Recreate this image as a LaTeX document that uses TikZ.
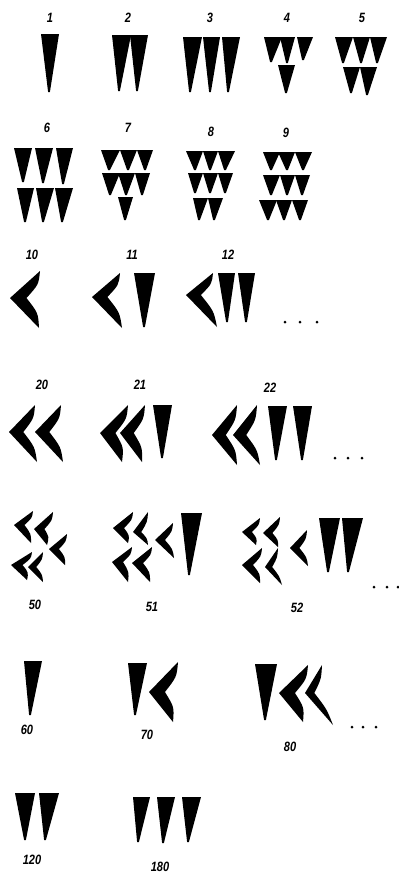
\documentclass[tikz,border=0pt]{standalone}
\usepackage{fontspec}
\setmainfont{Liberation Sans}
\begin{document}
\begin{tikzpicture}[x=1pt,y=-1pt,
  lbl/.style={font=\fontsize{13.5}{13.5}\selectfont\bfseries\itshape, inner sep=0pt, text=black, xscale=0.82}]
\useasboundingbox[fill=white] (0,0) rectangle (399,873);
% wedge: xl, xr, ytop, xtip, ytip
\newcommand\wdg[5]{\fill (#1,#3) -- (#2,#3) -- (#4+0.9,#5) -- (#4-0.9,#5) -- cycle;}
% chevron: upper tip, apex, lower tip
\newcommand\chev[6]{%
  \pgfmathsetmacro\chw{#1-#3}%
  \pgfmathsetmacro\chnx{#3+0.55*\chw}%
  \pgfmathsetmacro\chax{(#5+\chnx)/2+0.18*\chw}\pgfmathsetmacro\chay{(#6+#4)/2}%
  \pgfmathsetmacro\chbx{(#1+\chnx)/2+0.18*\chw}\pgfmathsetmacro\chby{(#2+#4)/2}%
  \fill (#1,#2) -- (#3,#4) -- (#5,#6) .. controls (\chax,\chay) .. (\chnx,#4) .. controls (\chbx,\chby) .. (#1,#2) -- cycle;}
\newcommand\dotsrow[4]{\fill (#1,#4) circle (1.5); \fill (#2,#4) circle (1.5); \fill (#3,#4) circle (1.5);}
% ---------- row 1
\node[lbl] (n1) at (50,18) {1};
\node[lbl] (n2) at (128,18) {2};
\node[lbl] (n3) at (210,18) {3};
\node[lbl] (n4) at (287,18) {4};
\node[lbl] (n5) at (362,18) {5};
\wdg{41}{59}{34}{49}{92}
\wdg{112}{131}{35}{119}{91}\wdg{130}{148}{35}{137}{91}
\wdg{183}{202}{37}{190}{92}\wdg{203}{220}{37}{210}{92}\wdg{222}{240}{37}{228}{92}
\wdg{264}{282}{37}{271}{62}\wdg{280}{295}{37}{287}{63}\wdg{297}{313}{37}{303}{60}\wdg{278}{295}{65}{286}{93}
\wdg{335}{353}{37}{343}{63}\wdg{353}{370}{37}{361}{63}\wdg{370}{387}{37}{377}{63}
\wdg{343}{360}{67}{351}{93}\wdg{360}{377}{67}{367}{95}
% ---------- row 2
\node[lbl] (n6) at (47,128) {6};
\node[lbl] (n7) at (128,128) {7};
\node[lbl] (n8) at (211,132) {8};
\node[lbl] (n9) at (286,133) {9};
\wdg{14}{32}{148}{23}{182}\wdg{35}{53}{148}{43}{183}\wdg{56}{73}{148}{63}{184}
\wdg{17}{34}{188}{25}{222}\wdg{36}{54}{188}{43}{222}\wdg{55}{73}{188}{62}{222}
\wdg{101}{120}{150}{109}{170}\wdg{120}{137}{150}{128}{170}\wdg{137}{153}{150}{145}{170}
\wdg{102}{120}{173}{110}{195}\wdg{118}{135}{173}{126}{195}\wdg{135}{150}{173}{142}{195}
\wdg{118}{133}{197}{125}{220}
\wdg{186}{203}{151}{195}{170}\wdg{203}{218}{151}{210}{170}\wdg{218}{235}{151}{225}{170}
\wdg{188}{203}{173}{195}{193}\wdg{203}{218}{173}{210}{193}\wdg{218}{233}{173}{225}{193}
\wdg{193}{208}{198}{199}{220}\wdg{208}{223}{198}{214}{220}
\wdg{263}{280}{152}{271}{170}\wdg{278}{295}{152}{287}{170}\wdg{295}{312}{152}{303}{170}
\wdg{263}{280}{175}{271}{195}\wdg{280}{295}{175}{287}{195}\wdg{295}{310}{175}{302}{195}
\wdg{259}{277}{200}{268}{220}\wdg{276}{292}{200}{284}{220}\wdg{292}{308}{200}{300}{220}
% ---------- row 3
\node[lbl] (n10) at (32,255) {10};
\node[lbl] (n11) at (132,255) {11};
\node[lbl] (n12) at (228,255) {12};
\chev{40}{271}{10}{298}{39}{328}
\chev{120}{273}{92}{297}{122}{328}\wdg{134}{155}{273}{144}{327}
\chev{213}{273}{186}{295}{217}{327}\wdg{218}{235}{273}{227}{322}\wdg{238}{255}{273}{246}{322}
\dotsrow{285}{300}{317}{322}
% ---------- row 4
\node[lbl] (n20) at (42,385) {20};
\node[lbl] (n21) at (140,385) {21};
\node[lbl] (n22) at (270,388) {22};
\chev{35}{405}{9}{432}{37}{462}\chev{61}{405}{35}{432}{63}{462}
\chev{128}{405}{100}{433}{122}{462}\chev{145}{405}{120}{433}{142}{462}\wdg{153}{172}{405}{162}{458}
\chev{237}{405}{212}{435}{237}{465}\chev{257}{405}{233}{435}{260}{465}
\wdg{268}{287}{406}{276}{460}\wdg{293}{312}{406}{302}{460}
\dotsrow{335}{348}{362}{458}
% ---------- row 5
\node[lbl] (n50) at (35,605) {50};
\node[lbl] (n51) at (152,607) {51};
\node[lbl] (n52) at (297,608) {52};
\chev{33}{511}{14}{525}{31}{543}\chev{53}{512}{34}{529}{47}{545}\chev{67}{534}{49}{549}{65}{565}
\chev{32}{552}{11}{565}{27}{580}\chev{43}{552}{28}{567}{43}{582}
\chev{133}{512}{113}{528}{128}{543}\chev{148}{512}{133}{532}{148}{545}\chev{173}{523}{155}{540}{174}{558}
\chev{132}{547}{112}{562}{128}{582}\chev{152}{547}{132}{563}{150}{582}
\wdg{181}{202}{513}{189}{575}
\chev{260}{518}{242}{532}{256}{545}\chev{280}{517}{263}{533}{278}{547}\chev{307}{530}{290}{548}{308}{566}
\chev{262}{548}{242}{565}{260}{583}\chev{278}{548}{265}{567}{282}{585}
\wdg{319}{340}{518}{328}{572}\wdg{342}{363}{518}{348}{572}
\dotsrow{374}{387}{398}{587}
% ---------- row 6
\node[lbl] (n60) at (27,730) {60};
\node[lbl] (n70) at (147,735) {70};
\node[lbl] (n80) at (290,747) {80};
\wdg{24}{42}{661}{30}{715}
\wdg{128}{147}{663}{135}{715}\chev{178}{662}{149}{692}{173}{722}
\wdg{255}{277}{664}{265}{720}\chev{308}{665}{279}{693}{303}{722}\chev{322}{665}{305}{693}{333}{725}
\dotsrow{352}{363}{376}{727}
% ---------- row 7
\node[lbl] (n120) at (32,860) {120};
\node[lbl] (n180) at (160,867) {180};
\wdg{15}{35}{793}{25}{840}\wdg{39}{59}{793}{45}{840}
\wdg{133}{150}{797}{138}{842}\wdg{157}{175}{797}{163}{843}\wdg{182}{201}{797}{188}{842}
\end{tikzpicture}
\end{document}
